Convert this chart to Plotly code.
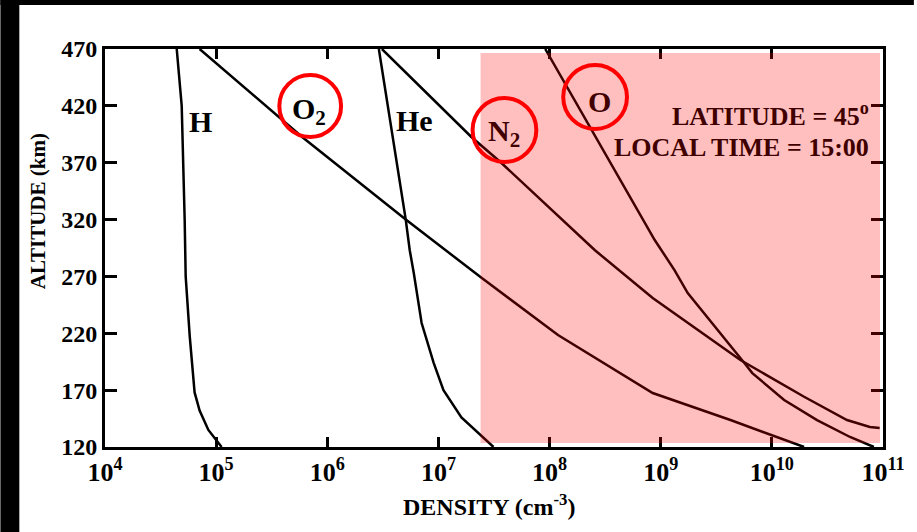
import plotly.graph_objects as go

# ---------------- data ----------------
h_alt = [470, 420, 320, 270, 218, 168, 152, 135, 120]
h_den = [4.42e4, 4.90e4, 5.21e4, 5.32e4, 5.78e4, 6.40e4, 7.10e4, 8.51e4, 1.12e5]

o2_alt = [470, 392.6, 320, 269.5, 218.5, 180.7, 167.5, 143.7, 120]
o2_den = [7.10e4, 5.94e5, 5.08e6, 2.39e7, 1.19e8, 5.06e8, 8.47e8, 4.24e9, 1.95e10]

he_alt = [470, 320, 293, 273, 229, 194, 170, 146, 120]
he_den = [2.91e6, 5.08e6, 5.52e6, 6.00e6, 7.06e6, 9.06e6, 1.11e7, 1.61e7, 3.13e7]

n2_alt = [470, 392.6, 370.6, 293, 251, 196.5, 164.2, 143.7, 137.6, 136.7]
n2_den = [3.10e6, 1.98e7, 3.61e7, 2.56e8, 8.47e8, 5.21e9, 1.95e10, 4.74e10, 7.62e10, 9.33e10]

o_alt = [470, 302, 275.6, 255.4, 193.9, 185, 161.3, 143.7, 128.8, 120]
o_den = [9.14e7, 8.83e8, 1.33e9, 1.75e9, 5.66e9, 6.67e9, 1.29e10, 2.55e10, 5.05e10, 8.28e10]

x_tickvals = [1e4, 1e5, 1e6, 1e7, 1e8, 1e9, 1e10, 1e11]
x_ticktext = ["10<sup>4</sup>", "10<sup>5</sup>", "10<sup>6</sup>", "10<sup>7</sup>",
              "10<sup>8</sup>", "10<sup>9</sup>", "10<sup>10</sup>", "10<sup>11</sup>"]
y_tickvals = [120, 170, 220, 270, 320, 370, 420, 470]
y_ticktext = ["120", "170", "220", "270", "320", "370", "420", "470"]

# ---------------- layout geometry ----------------
W, H = 917, 532
L, R, T, B = 105, 886, 49, 447   # plot-area pixel box
PW, PH = R - L, B - T


def px(x):
    return (x - L) / PW


def py(y):
    return (B - y) / PH


FONT = "Liberation Serif"

fig = go.Figure()
for alt, den in [(h_alt, h_den), (o2_alt, o2_den), (he_alt, he_den),
                 (n2_alt, n2_den), (o_alt, o_den)]:
    fig.add_trace(go.Scatter(x=den, y=alt, mode="lines",
                             line=dict(color="black", width=2.5),
                             showlegend=False, hoverinfo="skip"))

shapes = []
# black scan border (left and top)
shapes.append(dict(type="rect", xref="paper", yref="paper",
                   x0=px(0), x1=px(19), y0=py(H), y1=py(0),
                   fillcolor="black", line=dict(width=0), layer="above"))
shapes.append(dict(type="rect", xref="paper", yref="paper",
                   x0=px(0), x1=px(W), y0=py(5), y1=py(0),
                   fillcolor="black", line=dict(width=0), layer="above"))
# pink highlight
shapes.append(dict(type="rect", xref="paper", yref="paper",
                   x0=px(482), x1=px(883), y0=py(443), y1=py(53),
                   fillcolor="red", opacity=0.25, line=dict(width=0), layer="above"))
# red circles
for cx, cy, r in [(311, 106, 31), (506, 130, 32), (597, 97, 32)]:
    shapes.append(dict(type="circle", xref="paper", yref="paper",
                       x0=px(cx - r), x1=px(cx + r), y0=py(cy + r), y1=py(cy - r),
                       line=dict(color="#ff0000", width=4), layer="above"))

dark = "#400000"
annots = []


def lab(text, x, y, size, color="black", xanchor="center", angle=0):
    annots.append(dict(text="<b>" + text + "</b>", x=px(x), y=py(y), xref="paper", yref="paper",
                       showarrow=False, xanchor=xanchor, yanchor="middle", textangle=angle,
                       font=dict(family=FONT, size=size, color=color)))


lab("H", 201, 121, 30)
lab("O<sub>2</sub>", 310, 111, 30)
lab("He", 416, 120, 30)
lab("N<sub>2</sub>", 506, 133, 30, dark)
lab("O", 601, 101, 30, dark)
lab("LATITUDE = 45<sup>o</sup>", 874, 114, 26, dark, "right")
lab("LOCAL TIME = 15:00", 874, 147, 26, dark, "right")
lab("ALTITUDE (km)", 38, 211, 21, angle=-90)
lab("DENSITY (cm<sup>-3</sup>)", 490, 505, 24)

axis_common = dict(showline=True, linecolor="black", linewidth=3, mirror="allticks",
                   ticks="inside", tickwidth=2.5, tickcolor="black",
                   showgrid=False, zeroline=False)

fig.update_layout(
    width=W, height=H, autosize=False,
    margin=dict(l=L, r=W - R, t=T, b=H - B, pad=0),
    paper_bgcolor="white", plot_bgcolor="white",
    xaxis=dict(type="log", range=[4, 11], tickvals=x_tickvals,
               ticktext=["<b>" + t + "</b>" for t in x_ticktext], ticklen=10,
               tickfont=dict(family=FONT, size=26, color="black"), **axis_common),
    yaxis=dict(range=[120, 470], tickvals=y_tickvals,
               ticktext=["<b>" + t + "</b>" for t in y_ticktext], ticklen=12,
               tickfont=dict(family=FONT, size=24, color="black"), **axis_common),
    shapes=shapes, annotations=annots,
)

fig.write_html("out.html", config={"displayModeBar": False},
               post_script="document.body.style.margin='0px';"
                           "document.body.style.overflow='hidden';"
                           "document.body.style.background='white';"
                           "document.documentElement.style.background='white';"
                           "document.documentElement.style.overflow='hidden';")
